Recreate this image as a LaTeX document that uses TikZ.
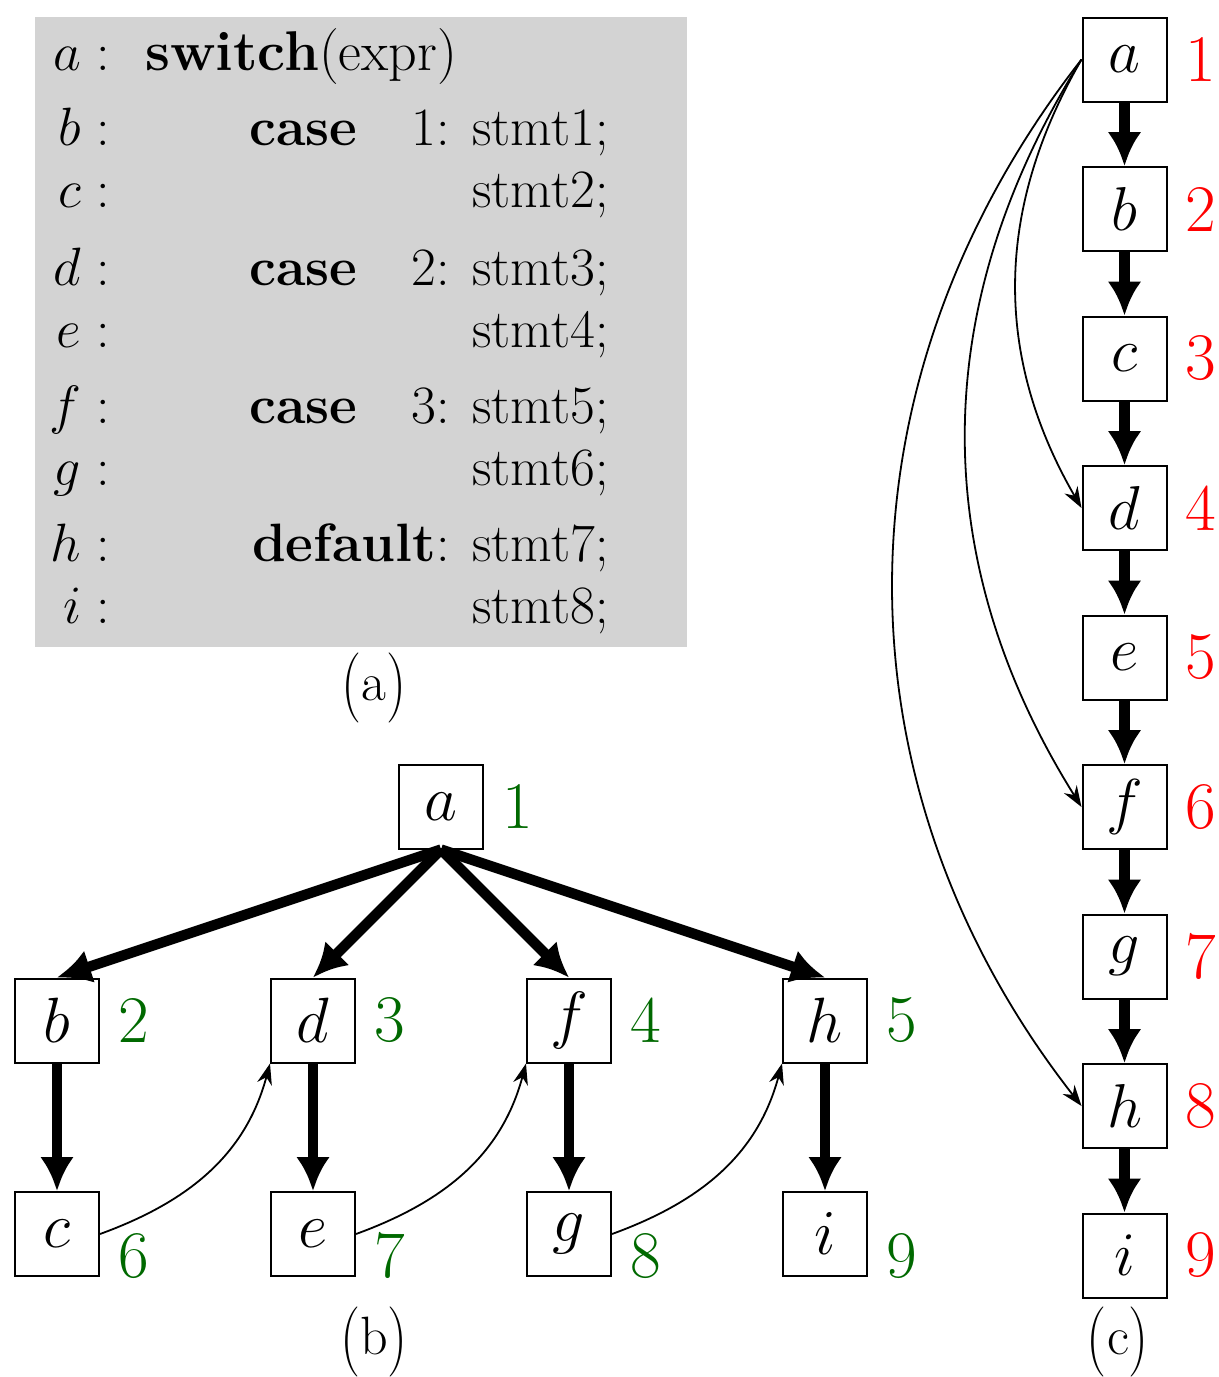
\documentclass[tikz,border=0pt]{standalone}
\usepackage{fix-cm}
\usepackage{graphicx}
\usetikzlibrary{arrows.meta}
\definecolor{panelgray}{RGB}{211,211,211}
\definecolor{numgreen}{RGB}{0,105,0}
% caption parentheses, stretched vertically
\newcommand{\capparen}[1]{\raisebox{-0.1em}{\scalebox{1.05}[1.3]{#1}}}
\begin{document}
\begin{tikzpicture}[x=0.5pt,y=-0.5pt,
  blk/.style={draw, line width=1pt, minimum width=42pt, minimum height=42pt,
    inner sep=0pt, font=\fontsize{32}{38}\selectfont},
  blkc/.style={blk, font=\fontsize{31}{37}\selectfont},
  gnum/.style={text=numgreen, inner sep=0pt, font=\fontsize{33.3}{40}\selectfont},
  rnum/.style={text=red, inner sep=0pt, font=\fontsize{33.3}{40}\selectfont},
  tree/.style={line width=5.2pt, -{Latex[length=17pt,width=17pt]}},
  jump/.style={line width=0.9pt, -{Stealth[length=10.5pt,width=7.5pt]}},
  code/.style={inner sep=0pt, font=\fontsize{27}{32}\selectfont},
  capt/.style={inner sep=0pt, anchor=base, font=\fontsize{27}{32}\selectfont},
]
\useasboundingbox (0,0) rectangle (1219,1377);

% ---------- (a) the switch statement ----------
\fill[panelgray] (35,17) rectangle (687,647);
\node[code, anchor=base east] (la) at (110,70)  {$a:$};
\node[code, anchor=base east] (lb) at (110,145) {$b:$};
\node[code, anchor=base east] (lc) at (110,207) {$c:$};
\node[code, anchor=base east] (ld) at (110,285) {$d:$};
\node[code, anchor=base east] (le) at (110,347) {$e:$};
\node[code, anchor=base east] (lf) at (110,423) {$f:$};
\node[code, anchor=base east] (lg) at (110,485) {$g:$};
\node[code, anchor=base east] (lh) at (110,561) {$h:$};
\node[code, anchor=base east] (li) at (110,623) {$i:$};

\node[code, anchor=base west, font=\fontsize{28}{33}\selectfont] (sw) at (145,70) {\textbf{switch}(expr)};
\node[code, anchor=base west] (k1) at (249,145) {\textbf{case}};
\node[code, anchor=base west] (k2) at (249,285) {\textbf{case}};
\node[code, anchor=base west] (k3) at (249,423) {\textbf{case}};
\node[code, anchor=base east] (v1) at (450,145) {1:};
\node[code, anchor=base east] (v2) at (450,285) {2:};
\node[code, anchor=base east] (v3) at (450,423) {3:};
\node[code, anchor=base east] (dflt) at (450,561) {\textbf{default}:};

\node[code, anchor=base west] (s1) at (472,145) {stmt1;};
\node[code, anchor=base west] (s2) at (472,207) {stmt2;};
\node[code, anchor=base west] (s3) at (472,285) {stmt3;};
\node[code, anchor=base west] (s4) at (472,347) {stmt4;};
\node[code, anchor=base west] (s5) at (472,423) {stmt5;};
\node[code, anchor=base west] (s6) at (472,485) {stmt6;};
\node[code, anchor=base west] (s7) at (472,561) {stmt7;};
\node[code, anchor=base west] (s8) at (472,623) {stmt8;};

\node[capt] (capa) at (374,700) {\capparen{(}a\capparen{)}};

% ---------- (b) the tree ----------
\node[blk] (ba) at (441,806.5) {$a$};
\node[blk] (bb) at (57,1020.5)  {$b$};
\node[blk] (bd) at (313,1020.5) {$d$};
\node[blk] (bf) at (569,1020.5) {$f$};
\node[blk] (bh) at (825,1020.5) {$h$};
\node[blk] (bc) at (57,1234)  {$c$};
\node[blk] (be) at (313,1234) {$e$};
\node[blk] (bg) at (569,1234) {$g$};
\node[blk] (bi) at (825,1234) {$i$};

\node[gnum, anchor=west] (g1) at ([xshift=9pt]ba.east) {1};
\node[gnum, anchor=west] (g2) at ([xshift=9pt]bb.east) {2};
\node[gnum, anchor=west] (g3) at ([xshift=9pt]bd.east) {3};
\node[gnum, anchor=west] (g4) at ([xshift=9pt]bf.east) {4};
\node[gnum, anchor=west] (g5) at ([xshift=9pt]bh.east) {5};
\node[gnum, anchor=base west] (g6) at ([xshift=9pt]bc.south east) {6};
\node[gnum, anchor=base west] (g7) at ([xshift=9pt]be.south east) {7};
\node[gnum, anchor=base west] (g8) at ([xshift=9pt]bg.south east) {8};
\node[gnum, anchor=base west] (g9) at ([xshift=9pt]bi.south east) {9};

\draw[tree] (ba.south) -- (bb.north);
\draw[tree] (ba.south) -- (bd.north);
\draw[tree] (ba.south) -- (bf.north);
\draw[tree] (ba.south) -- (bh.north);
\draw[tree] (bb.south) -- (bc.north);
\draw[tree] (bd.south) -- (be.north);
\draw[tree] (bf.south) -- (bg.north);
\draw[tree] (bh.south) -- (bi.north);

\draw[jump] (bc.east) to[out=20,in=255] (bd.south west);
\draw[jump] (be.east) to[out=20,in=255] (bf.south west);
\draw[jump] (bg.east) to[out=20,in=255] (bh.south west);

\node[capt] (capb) at (374,1354) {\capparen{(}b\capparen{)}};

% ---------- (c) the chain ----------
\node[blkc] (ca) at (1124.5,59.5)  {$a$};
\node[blkc] (cb) at (1124.5,209)   {$b$};
\node[blkc] (cc) at (1124.5,358.5) {$c$};
\node[blkc] (cd) at (1124.5,508)   {$d$};
\node[blkc] (ce) at (1124.5,657.5) {$e$};
\node[blkc] (cf) at (1124.5,807)   {$f$};
\node[blkc] (cg) at (1124.5,956.5) {$g$};
\node[blkc] (ch) at (1124.5,1106)  {$h$};
\node[blkc] (ci) at (1124.5,1255.5) {$i$};

\node[rnum, anchor=west] (r1) at ([xshift=9pt]ca.east) {1};
\node[rnum, anchor=west] (r2) at ([xshift=9pt]cb.east) {2};
\node[rnum, anchor=west] (r3) at ([xshift=9pt]cc.east) {3};
\node[rnum, anchor=west] (r4) at ([xshift=9pt]cd.east) {4};
\node[rnum, anchor=west] (r5) at ([xshift=9pt]ce.east) {5};
\node[rnum, anchor=west] (r6) at ([xshift=9pt]cf.east) {6};
\node[rnum, anchor=west] (r7) at ([xshift=9pt]cg.east) {7};
\node[rnum, anchor=west] (r8) at ([xshift=9pt]ch.east) {8};
\node[rnum, anchor=west] (r9) at ([xshift=9pt]ci.east) {9};

\draw[tree] (ca.south) -- (cb.north);
\draw[tree] (cb.south) -- (cc.north);
\draw[tree] (cc.south) -- (cd.north);
\draw[tree] (cd.south) -- (ce.north);
\draw[tree] (ce.south) -- (cf.north);
\draw[tree] (cf.south) -- (cg.north);
\draw[tree] (cg.south) -- (ch.north);
\draw[tree] (ch.south) -- (ci.north);

\draw[jump] (ca.west) to[bend right=30] (cd.west);
\draw[jump] (ca.west) to[bend right=32] (cf.west);
\draw[jump] (ca.west) to[bend right=38] (ch.west);

\node[capt] (capc) at (1118,1354) {\capparen{(}c\capparen{)}};
\end{tikzpicture}
\end{document}
